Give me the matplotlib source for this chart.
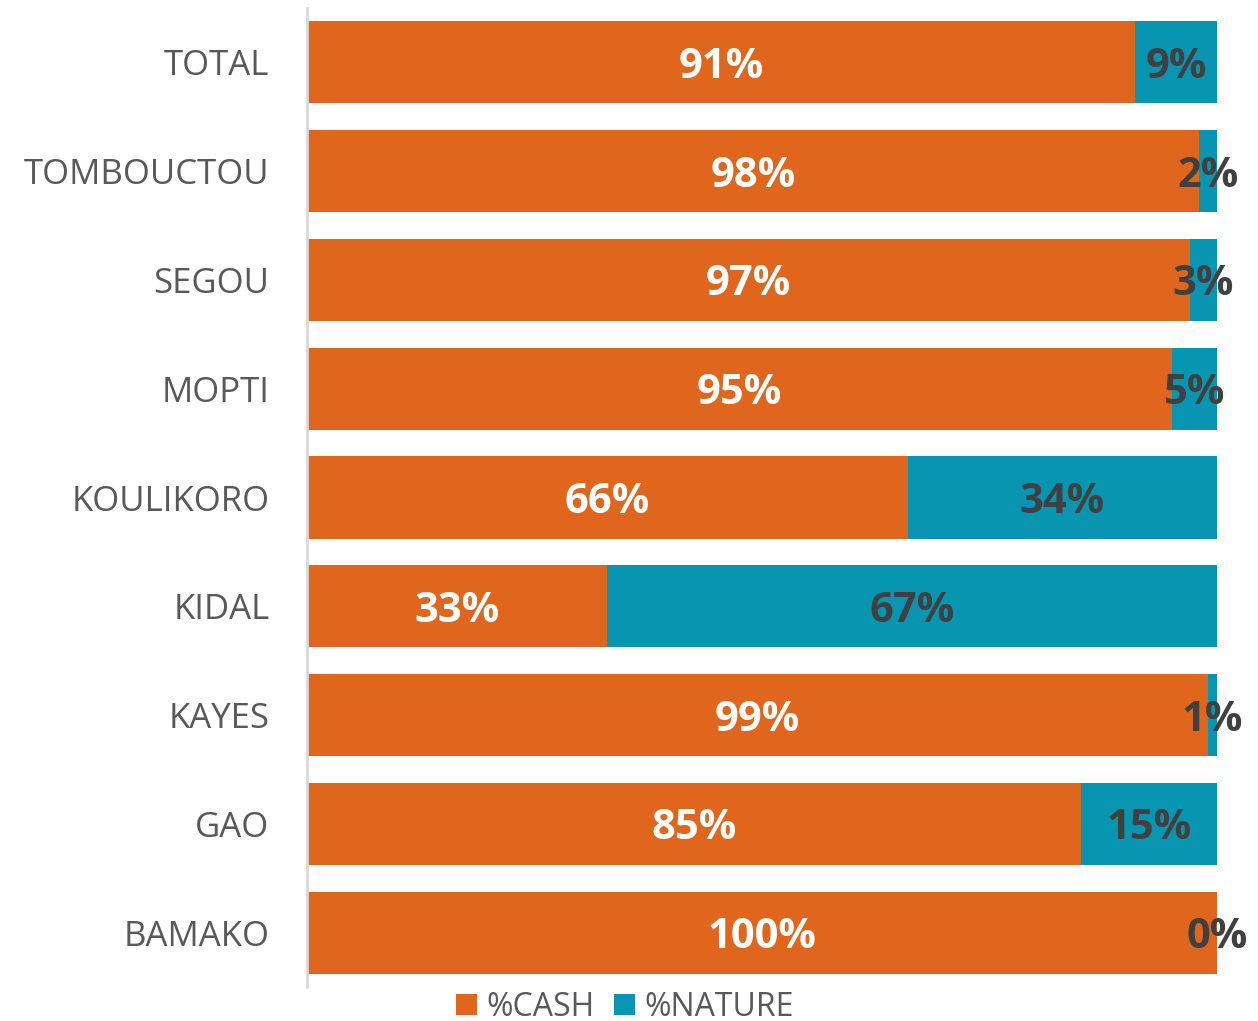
import matplotlib
matplotlib.use('Agg')
import matplotlib.pyplot as plt

# Data (top to bottom as shown)
regions = ['TOTAL', 'TOMBOUCTOU', 'SEGOU', 'MOPTI', 'KOULIKORO', 'KIDAL', 'KAYES', 'GAO', 'BAMAKO']
cash = [91, 98, 97, 95, 66, 33, 99, 85, 100]
nature = [9, 2, 3, 5, 34, 67, 1, 15, 0]

ORANGE = '#E0661D'
TEAL = '#0795B2'
GRAY = '#595959'

plt.rcParams['font.family'] = ['Open Sans', 'DejaVu Sans']

fig = plt.figure(figsize=(12.58, 10.21), dpi=100)
ax = fig.add_axes([307 / 1258, 34 / 1021, 910 / 1258, 979 / 1021])

ypos = list(range(len(regions)))
h = 0.755
ax.barh(ypos, cash, height=h, color=ORANGE, label='%CASH')
ax.barh(ypos, nature, left=cash, height=h, color=TEAL, label='%NATURE')

for y, c, n in zip(ypos, cash, nature):
    ax.text(c / 2, y, f'{c}%', ha='center', va='center_baseline', color='white',
            fontsize=30, fontweight='bold')
    ax.text(c + n / 2, y, f'{n}%', ha='center', va='center_baseline', color='#404040',
            fontsize=30, fontweight='bold')

ax.set_xlim(0, 100)
ax.set_ylim(len(regions) - 0.5, -0.5)
ax.set_yticks(ypos)
ax.set_yticklabels(regions, fontsize=25, color=GRAY)
ax.tick_params(axis='y', length=0, pad=27)
ax.set_xticks([])

for s in ['top', 'right', 'bottom']:
    ax.spines[s].set_visible(False)
ax.spines['left'].set_color('#D9D9D9')
ax.spines['left'].set_linewidth(2)

fig.legend(loc='center', bbox_to_anchor=(625 / 1258, 1 - 1007 / 1021),
           ncol=2, frameon=False, fontsize=23, labelcolor=GRAY,
           handlelength=0.65, handleheight=0.65, handletextpad=0.3, columnspacing=0.6)

plt.savefig('out.png', dpi=100, facecolor='white')
plt.close(fig)
